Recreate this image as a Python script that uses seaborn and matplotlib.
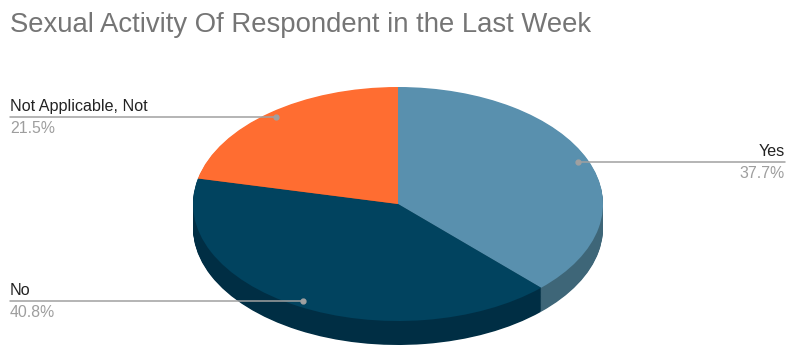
import numpy as np
import matplotlib
matplotlib.use("Agg")
import matplotlib.pyplot as plt
import matplotlib.transforms as mtransforms
import seaborn as sns

# data
labels = ["Yes", "No", "Not Applicable, Not"]
shares = [37.7, 40.8, 21.5]
top_colors = ["#5990ae", "#01435f", "#ff6d31"]
side_colors = ["#3e6678", "#002e44", "#b34c22"]
title = "Sexual Activity Of Respondent in the Last Week"

sns.set_theme(style="white")
plt.rcParams['font.family'] = ['Liberation Sans', 'DejaVu Sans']

W, H = 787, 346
fig = plt.figure(figsize=(W / 100, H / 100), dpi=100)
ax = fig.add_axes([0, 0, 1, 1])

# pie geometry in pixels (centre, radii, thickness)
cx, cy, rx, ry, depth = 398, 204, 205, 117, 24

# side wall: stack of darker pies shifted down
n_layers = 30
for k in range(n_layers, 0, -1):
    ax.pie(shares, colors=side_colors, startangle=90, counterclock=False,
           center=(0, -depth / ry * k / n_layers),
           wedgeprops=dict(linewidth=0))
# top face
ax.pie(shares, colors=top_colors, startangle=90, counterclock=False,
       wedgeprops=dict(linewidth=0))

ax.set_aspect('auto')
ax.set_xlim(-cx / rx, (W - cx) / rx)
ax.set_ylim((cy - H) / ry, cy / ry)
ax.axis('off')

# leader lines and labels
fracs = np.array(shares) / sum(shares)
ends = 90 - 360 * np.cumsum(fracs)
mids = np.deg2rad(ends + 180 * fracs)
trans = mtransforms.blended_transform_factory(ax.transAxes, ax.transData)
line_col = "#a0a0a0"
for lab, val, a in zip(labels, shares, mids):
    dx, dy = 0.95 * np.cos(a), 0.95 * np.sin(a)
    if dx > 0:
        edge_px, ha = 785, 'right'
    else:
        edge_px, ha = 10, 'left'
    edge_x = (edge_px - cx) / rx
    ax.plot([dx, edge_x], [dy, dy], color=line_col, lw=1.1, zorder=5)
    ax.plot(dx, dy, 'o', color=line_col, ms=3.5, zorder=6)
    ax.annotate(lab, xy=(edge_px / W, dy), xycoords=trans,
                xytext=(0, 3), textcoords='offset pixels',
                ha=ha, va='bottom', fontsize=11.6, color='#222222')
    ax.annotate(f"{val:.1f}%", xy=(edge_px / W, dy), xycoords=trans,
                xytext=(0, -4), textcoords='offset pixels',
                ha=ha, va='top', fontsize=11.4, color='#9e9e9e')

fig.text(10 / W, 1 - 32 / H, title, fontsize=19.8, color='#757575',
         ha='left', va='baseline')

fig.savefig("out.png", dpi=100)
